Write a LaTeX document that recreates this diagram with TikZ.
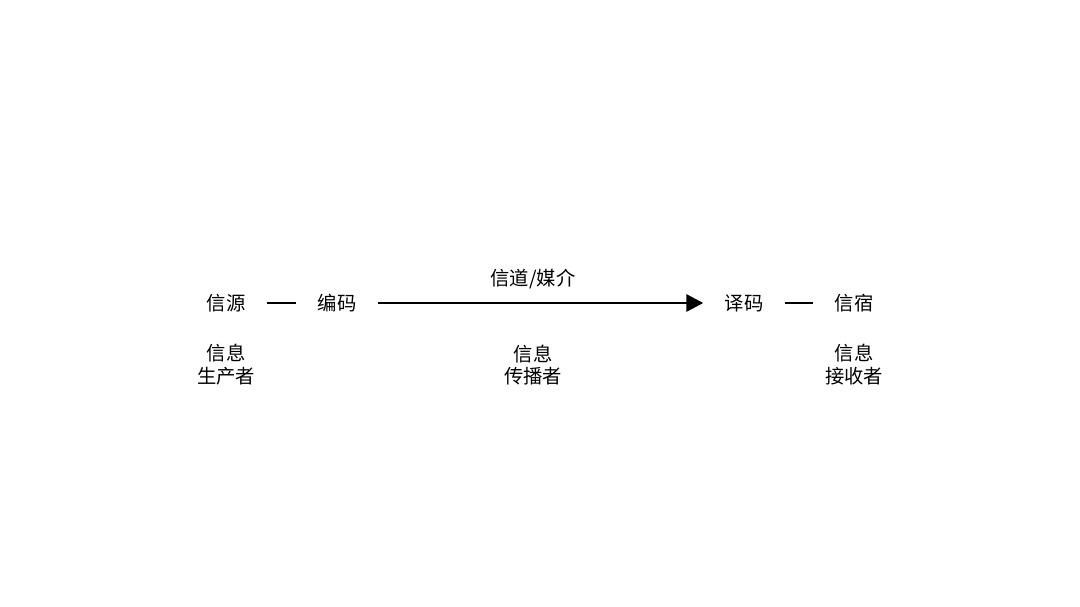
\documentclass[tikz,border=0pt]{standalone}
\usepackage{fontspec}
\newfontfamily\cjk{Noto Sans CJK SC}
\usetikzlibrary{arrows.meta}

\tikzset{
  term/.style={font=\cjk\fontsize{11pt}{13pt}\selectfont, inner xsep=0.42cm, inner ysep=2pt},
  role/.style={font=\cjk\fontsize{11pt}{13pt}\selectfont, align=center, inner sep=0pt},
  link/.style={line width=1.7pt}
}

\begin{document}
\begin{tikzpicture}[x=0.02cm,y=-0.02cm]
\useasboundingbox (0,0) rectangle (1080,607);
% top row
\node[term] (src) at (226,303) {信源};
\node[term] (enc) at (337,303) {编码};
\node[term] (dec) at (744,303) {译码};
\node[term] (dst) at (854,303) {信宿};
\node[role] (chan) at (533,279) {信道/媒介};
% connectors
\draw[link] (src) -- (enc);
\draw[link,-{Triangle[length=0.34cm,width=0.34cm]}] (enc) -- (dec);
\draw[link] (dec) -- (dst);
% roles
\node[role] (prod) at (226,365) {信息\\生产者};
\node[role] (spread) at (533,365) {信息\\传播者};
\node[role] (recv) at (854,365) {信息\\接收者};
\end{tikzpicture}
\end{document}
